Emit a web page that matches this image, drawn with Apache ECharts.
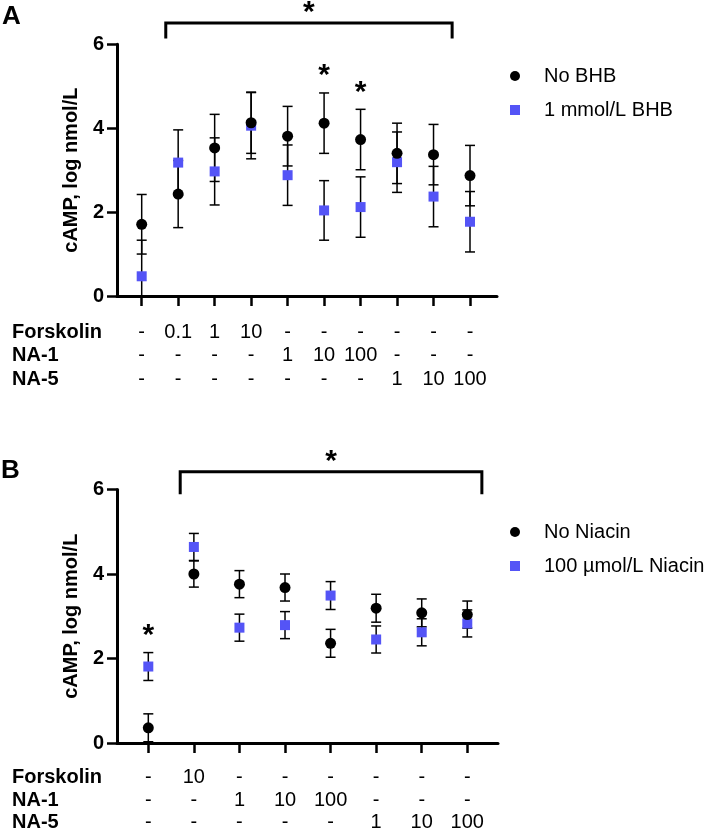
<!DOCTYPE html>
<html>
<head>
<meta charset="utf-8">
<script src="https://cdn.jsdelivr.net/npm/echarts@6/dist/echarts.min.js"></script>
<style>
  html, body { margin: 0; padding: 0; background: #fff; }
  #chart { width: 708px; height: 834px; }
</style>
</head>
<body>
<div id="chart"></div>
<script>
// ---- panel A : BHB ----
const nameA0 = 'No BHB'
const nameA1 = '1 mmol/L BHB'
const noBHB = [1.71, 2.43, 3.53, 4.13, 3.81, 4.12, 3.73, 3.40, 3.37, 2.87]
const noBHBErr = [0.71, 0.80, 0.80, 0.73, 0.71, 0.72, 0.72, 0.72, 0.72, 0.72]
const bhb = [0.47, 3.18, 2.97, 4.06, 2.88, 2.04, 2.12, 3.19, 2.37, 1.77]
const bhbErr = [0.86, 0.78, 0.80, 0.79, 0.72, 0.71, 0.72, 0.72, 0.72, 0.72]
const forskolinA = ['-', '0.1', '1', '10', '-', '-', '-', '-', '-', '-']
const na1A = ['-', '-', '-', '-', '1', '10', '100', '-', '-', '-']
const na5A = ['-', '-', '-', '-', '-', '-', '-', '1', '10', '100']
const starsA = [5, 6]

// ---- panel B : niacin ----
const nameB0 = 'No Niacin'
const nameB1 = '100 µmol/L Niacin'
const noNiacin = [0.36, 4.00, 3.76, 3.68, 2.36, 3.19, 3.08, 3.04]
const noNiacinErr = [0.33, 0.31, 0.32, 0.32, 0.33, 0.33, 0.33, 0.32]
const niacin = [1.81, 4.64, 2.73, 2.79, 3.49, 2.45, 2.62, 2.83]
const niacinErr = [0.33, 0.32, 0.32, 0.32, 0.33, 0.32, 0.32, 0.32]
const forskolinB = ['-', '10', '-', '-', '-', '-', '-', '-']
const na1B = ['-', '-', '1', '10', '100', '-', '-', '-']
const na5B = ['-', '-', '-', '-', '-', '1', '10', '100']
const starsB = [0]

const rowNames = ['Forskolin', 'NA-1', 'NA-5']
const yTicks = [0, 2, 4, 6]

const FONT = '"Liberation Sans", Arial, Helvetica, sans-serif'
const BLUE = '#5454F6'

let chart = echarts.init(document.getElementById('chart'))

function xAxis(gridIndex, n, min, max) {
    return {
        type: 'value',
        gridIndex: gridIndex,
        min: min,
        max: max,
        axisLine: { show: true, onZero: false, lineStyle: { color: '#000', width: 3 } },
        axisTick: {
            show: true,
            length: 10,
            customValues: Array.from({ length: n }, (v, i) => i),
            lineStyle: { color: '#000', width: 2.5 }
        },
        axisLabel: { show: false },
        splitLine: { show: false }
    }
}

function yAxis(gridIndex) {
    return {
        type: 'value',
        gridIndex: gridIndex,
        min: yTicks[0],
        max: yTicks[yTicks.length - 1],
        interval: 2,
        name: 'cAMP, log nmol/L',
        nameLocation: 'middle',
        nameGap: 30,
        nameTextStyle: { color: '#000', fontSize: 20, fontWeight: 'bold', fontFamily: FONT },
        axisLine: { show: true, onZero: false, lineStyle: { color: '#000', width: 3 } },
        axisTick: { show: true, length: 10, lineStyle: { color: '#000', width: 2.5 } },
        axisLabel: { color: '#000', fontSize: 20, fontWeight: 'bold', fontFamily: FONT, margin: 13 },
        splitLine: { show: false }
    }
}

function errorBarItem(params, api) {
    let x = api.value(0)
    let m = api.value(1)
    let e = api.value(2)
    let lowVal = m - e
    let hi = api.coord([x, m + e])
    let lo = api.coord([x, Math.max(0, lowVal)])
    let w = 5
    let st = { stroke: '#000', lineWidth: 1.5 }
    let children = [
        { type: 'line', shape: { x1: hi[0], y1: hi[1], x2: lo[0], y2: lo[1] }, style: st },
        { type: 'line', shape: { x1: hi[0] - w, y1: hi[1], x2: hi[0] + w, y2: hi[1] }, style: st }
    ]
    if (lowVal > 0) {
        children.push({ type: 'line', shape: { x1: lo[0] - w, y1: lo[1], x2: lo[0] + w, y2: lo[1] }, style: st })
    }
    return { type: 'group', children: children }
}

function errSeries(idx, vals, errs) {
    return {
        type: 'custom',
        xAxisIndex: idx,
        yAxisIndex: idx,
        silent: true,
        z: 2,
        renderItem: errorBarItem,
        data: vals.map((v, i) => [i, v, errs[i]])
    }
}

function dotSeries(idx, name, vals, symbol, color, size, z) {
    return {
        type: 'scatter',
        name: name,
        xAxisIndex: idx,
        yAxisIndex: idx,
        symbol: symbol,
        symbolSize: size,
        itemStyle: { color: color, opacity: 1 },
        z: z,
        data: vals.map((v, i) => [i, v])
    }
}

function legend(top, names) {
    return {
        orient: 'vertical',
        left: 505,
        top: top,
        itemWidth: 10,
        itemHeight: 10,
        itemGap: 14,
        selectedMode: false,
        textStyle: { color: '#000', fontSize: 20, fontFamily: FONT, lineHeight: 20, padding: [0, 0, 0, 19] },
        data: names
    }
}

let option = {
    backgroundColor: '#fff',
    animation: false,
    grid: [
        { left: 117, top: 44.3, width: 380, height: 251.7 },
        { left: 117, top: 489.5, width: 381, height: 253.5 }
    ],
    xAxis: [
        xAxis(0, noBHB.length, -0.677, 9.74),
        xAxis(1, noNiacin.length, -0.687, 7.674)
    ],
    yAxis: [yAxis(0), yAxis(1)],
    legend: [
        legend(61, [{ name: nameA0, icon: 'circle' }, { name: nameA1, icon: 'rect' }]),
        legend(517, [{ name: nameB0, icon: 'circle' }, { name: nameB1, icon: 'rect' }])
    ],
    series: [
        errSeries(0, noBHB, noBHBErr),
        errSeries(0, bhb, bhbErr),
        dotSeries(0, nameA1, bhb, 'rect', BLUE, 10, 3),
        dotSeries(0, nameA0, noBHB, 'circle', '#000', 11, 4),
        errSeries(1, noNiacin, noNiacinErr),
        errSeries(1, niacin, niacinErr),
        dotSeries(1, nameB1, niacin, 'rect', BLUE, 10, 3),
        dotSeries(1, nameB0, noNiacin, 'circle', '#000', 11, 4)
    ]
}
chart.setOption(option)

// annotations placed through the axes
function px(idx, x, y) {
    return chart.convertToPixel({ xAxisIndex: idx, yAxisIndex: idx }, [x, y])
}

let graphics = []

function text(x, y, str, size, bold, align) {
    graphics.push({
        type: 'text',
        x: x, y: y,
        style: {
            text: str, fill: '#000',
            font: (bold ? 'bold ' : '') + size + 'px ' + FONT,
            textAlign: align || 'center',
            textVerticalAlign: 'middle'
        }
    })
}

function star(x, y) {
    text(x, y + 6, '*', 30, true)
}

function table(idx, rows, rowY) {
    rows.forEach((row, r) => {
        text(12, rowY[r], rowNames[r], 20, true, 'left')
        row.forEach((s, i) => {
            text(px(idx, i, 0)[0], rowY[r], s, 20, false)
        })
    })
}

function bracket(idx, x0, x1, yTop, yBot) {
    let a = px(idx, x0, yTop)
    let b = px(idx, x1, yTop)
    let c = px(idx, x0, yBot)
    graphics.push({
        type: 'polyline',
        shape: { points: [[a[0], c[1]], a, b, [b[0], c[1]]] },
        style: { stroke: '#000', lineWidth: 3, fill: null }
    })
    star((a[0] + b[0]) / 2, a[1] - 16)
}

function markStars(idx, list, vals, errs) {
    list.forEach(i => {
        let p = px(idx, i, vals[i] + errs[i])
        star(p[0], p[1] - 23)
    })
}

// panel letters
text(2, 17, 'A', 26, true, 'left')
text(1, 471, 'B', 26, true, 'left')

table(0, [forskolinA, na1A, na5A], [332, 355, 379])
table(1, [forskolinB, na1B, na5B], [777, 800, 822])

bracket(0, 0.66, 8.51, 6.51, 6.14)
bracket(1, 0.70, 7.32, 6.42, 5.89)

markStars(0, starsA, noBHB, noBHBErr)
markStars(1, starsB, niacin, niacinErr)

chart.setOption({ graphic: graphics })
</script>
</body>
</html>
